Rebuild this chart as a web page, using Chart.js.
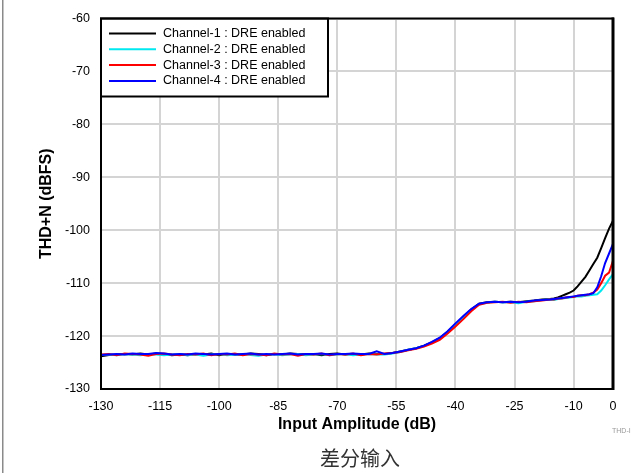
<!DOCTYPE html>
<html>
<head>
<meta charset="utf-8">
<script src="https://cdn.jsdelivr.net/npm/chart.js@4/dist/chart.umd.min.js"></script>
<style>
  html, body { margin: 0; padding: 0; background: #fff; }
  #wrap { position: relative; width: 633px; height: 473px; }
</style>
</head>
<body>
<div id="wrap"><canvas id="thdChart" width="633" height="473"></canvas></div>
<script>
// input amplitude (dB): 2 dB steps down low, 1 dB steps near full scale
const inputDb = [
  -130, -128, -126, -124, -122, -120, -118, -116, -114, -112,
  -110, -108, -106, -104, -102, -100, -98, -96, -94, -92,
  -90, -88, -86, -84, -82, -80, -78, -76, -74, -72,
  -70, -68, -66, -64, -62, -60, -58, -56, -54, -52,
  -50, -48, -46, -44, -42, -40, -38, -36, -34, -32,
  -30, -28, -26, -24, -22, -20, -18, -16,
  -15, -14, -13, -12, -11, -10, -9, -8, -7, -6, -5, -4, -3, -2, -1, 0
];

const ch1 = [
  -123.8, -123.6, -123.5, -123.4, -123.5, -123.3, -123.5, -123.3, -123.4, -123.6,
  -123.5, -123.6, -123.4, -123.5, -123.3, -123.6, -123.4, -123.5, -123.5, -123.3,
  -123.4, -123.6, -123.4, -123.5, -123.3, -123.4, -123.5, -123.4, -123.6, -123.4,
  -123.3, -123.5, -123.4, -123.5, -123.3, -123.4, -123.4, -123.2, -122.9, -122.6,
  -122.3, -121.8, -121.2, -120.4, -119.2, -117.8, -116.4, -115.0, -113.9, -113.6,
  -113.5, -113.6, -113.5, -113.6, -113.4, -113.3, -113.1, -113.0,
  -112.9, -112.7, -112.4, -112.1, -111.8, -111.4, -110.6, -109.7, -108.8, -107.6,
  -106.4, -105.2, -103.4, -101.5, -99.7, -98.2
];
const ch2 = [
  -123.6, -123.5, -123.6, -123.4, -123.5, -123.6, -123.4, -123.5, -123.6, -123.5,
  -123.4, -123.6, -123.5, -123.7, -123.5, -123.4, -123.6, -123.5, -123.4, -123.6,
  -123.7, -123.5, -123.4, -123.6, -123.5, -123.4, -123.6, -123.5, -123.4, -123.6,
  -123.5, -123.4, -123.6, -123.5, -123.4, -123.5, -123.5, -123.3, -123.0, -122.6,
  -122.3, -121.9, -121.3, -120.5, -119.3, -117.9, -116.5, -115.1, -114.0, -113.7,
  -113.5, -113.6, -113.6, -113.8, -113.5, -113.4, -113.2, -113.1,
  -113.2, -113.0, -112.9, -112.8, -112.7, -112.6, -112.5, -112.5, -112.4, -112.3,
  -112.2, -112.1, -111.4, -110.4, -109.3, -108.3
];
const ch3 = [
  -123.5, -123.4, -123.6, -123.3, -123.4, -123.5, -123.7, -123.4, -123.3, -123.5,
  -123.6, -123.4, -123.5, -123.3, -123.6, -123.4, -123.5, -123.3, -123.6, -123.4,
  -123.5, -123.6, -123.3, -123.5, -123.4, -123.7, -123.4, -123.5, -123.3, -123.6,
  -123.4, -123.5, -123.3, -123.6, -123.4, -123.5, -123.3, -123.2, -123.0, -122.7,
  -122.4, -122.0, -121.4, -120.7, -119.5, -118.2, -116.8, -115.3, -114.1, -113.7,
  -113.6, -113.5, -113.7, -113.5, -113.6, -113.4, -113.3, -113.1,
  -113.1, -112.9, -112.9, -112.7, -112.6, -112.6, -112.4, -112.3, -112.3, -112.1,
  -111.8, -111.2, -110.0, -108.6, -108.0, -105.8
];
const ch4 = [
  -123.6, -123.5, -123.4, -123.5, -123.3, -123.4, -123.4, -123.2, -123.3, -123.5,
  -123.4, -123.5, -123.3, -123.4, -123.5, -123.4, -123.3, -123.5, -123.4, -123.3,
  -123.5, -123.4, -123.5, -123.4, -123.3, -123.5, -123.4, -123.4, -123.3, -123.5,
  -123.4, -123.4, -123.3, -123.4, -123.4, -122.9, -123.4, -123.2, -122.9, -122.6,
  -122.3, -121.8, -121.1, -120.3, -119.1, -117.6, -116.2, -114.9, -113.9, -113.6,
  -113.5, -113.6, -113.5, -113.6, -113.5, -113.3, -113.2, -113.1,
  -113.0, -112.9, -112.8, -112.7, -112.6, -112.5, -112.4, -112.3, -112.2, -112.1,
  -111.9, -110.8, -108.7, -106.2, -104.4, -102.6
];

const seriesNames = [
  "Channel-1 : DRE enabled",
  "Channel-2 : DRE enabled",
  "Channel-3 : DRE enabled",
  "Channel-4 : DRE enabled",
];
const seriesColors = ["#000000", "#00e8f0", "#ff0000", "#0000ff"];
const xTickValues = [-130, -115, -100, -85, -70, -55, -40, -25, -10, 0];
const yTickValues = [-130, -120, -110, -100, -90, -80, -70, -60];

const FONT = "'Liberation Sans', Arial, Helvetica, sans-serif";

function toPoints(ys) {
  return inputDb.map((x, i) => ({ x: x, y: ys[i] }));
}

// legend box drawn inside the top-left corner of the plot
const insideLegend = {
  id: "insideLegend",
  afterDatasetsDraw(chart) {
    const { ctx, chartArea } = chart;
    const x0 = chartArea.left;
    const y0 = chartArea.top;
    const w = 227;
    const h = 78;
    ctx.save();
    ctx.fillStyle = "#fff";
    ctx.fillRect(x0, y0, w, h);
    ctx.strokeStyle = "#000";
    ctx.lineWidth = 2;
    ctx.strokeRect(x0, y0, w, h);
    ctx.font = "12.5px " + FONT;
    ctx.textBaseline = "middle";
    chart.data.datasets.forEach((ds, i) => {
      const yy = y0 + 15 + i * 15.8;
      ctx.strokeStyle = ds.borderColor;
      ctx.lineWidth = 2;
      ctx.beginPath();
      ctx.moveTo(x0 + 8, yy);
      ctx.lineTo(x0 + 55, yy);
      ctx.stroke();
      ctx.fillStyle = "#000";
      ctx.fillText(ds.label, x0 + 62, yy);
    });
    ctx.restore();
  },
};

// plot frame, page border and the extra texts under the chart
const frameAndCaption = {
  id: "frameAndCaption",
  afterDraw(chart) {
    const { ctx, chartArea } = chart;
    ctx.save();
    ctx.strokeStyle = "#000";
    ctx.lineWidth = 2;
    ctx.strokeRect(chartArea.left, chartArea.top,
      chartArea.right - chartArea.left, chartArea.bottom - chartArea.top);
    ctx.lineWidth = 3;
    ctx.beginPath();
    ctx.moveTo(chartArea.right, chartArea.top - 1);
    ctx.lineTo(chartArea.right, chartArea.bottom + 1);
    ctx.stroke();

    ctx.fillStyle = "#8a8a8a";
    ctx.fillRect(2, 0, 1.5, chart.height);

    ctx.fillStyle = "#333";
    ctx.font = "20px 'Noto Sans CJK SC', sans-serif";
    ctx.textAlign = "center";
    ctx.textBaseline = "middle";
    ctx.fillText("差分输入", 360, 458);

    ctx.fillStyle = "#999";
    ctx.font = "7px " + FONT;
    ctx.textAlign = "left";
    ctx.fillText("THD-I", 612, 431);
    ctx.restore();
  },
};

const ctx = document.getElementById("thdChart").getContext("2d");
const thdChart = new Chart(ctx, {
  type: "line",
  data: {
    datasets: [ch1, ch2, ch3, ch4].map((ys, i) => ({
      label: seriesNames[i],
      data: toPoints(ys),
      borderColor: seriesColors[i],
      backgroundColor: seriesColors[i],
      borderWidth: 2,
      pointRadius: 0,
      tension: 0,
      fill: false,
      order: 3 - i,
    })),
  },
  options: {
    responsive: false,
    animation: false,
    layout: { padding: { top: 16, right: 20, left: 0, bottom: 0 } },
    scales: {
      x: {
        type: "linear",
        min: -130,
        max: 0,
        afterBuildTicks: (scale) => {
          scale.ticks = xTickValues.map((v) => ({ value: v }));
        },
        afterFit: (scale) => {
          scale.height = 84;
        },
        grid: { color: "#d4d4d4", lineWidth: 2, drawTicks: false },
        border: { display: false },
        ticks: {
          color: "#000",
          padding: 10,
          maxRotation: 0,
          autoSkip: false,
          font: { family: FONT, size: 12.5 },
        },
        title: {
          display: true,
          text: "Input Amplitude (dB)",
          color: "#000",
          padding: { top: 0, bottom: 39 },
          font: { family: FONT, size: 16, weight: "bold" },
        },
      },
      y: {
        type: "linear",
        min: -130,
        max: -60,
        afterBuildTicks: (scale) => {
          scale.ticks = yTickValues.map((v) => ({ value: v }));
        },
        afterFit: (scale) => {
          scale.width = 101;
        },
        grid: { color: "#d4d4d4", lineWidth: 2, drawTicks: false },
        border: { display: false },
        ticks: {
          color: "#000",
          padding: 11,
          font: { family: FONT, size: 12.5 },
        },
        title: {
          display: true,
          text: "THD+N (dBFS)",
          color: "#000",
          padding: { top: 37, bottom: 0 },
          font: { family: FONT, size: 16, weight: "bold" },
        },
      },
    },
    plugins: {
      legend: { display: false },
      tooltip: { enabled: false },
    },
    devicePixelRatio: window.devicePixelRatio,
  },
  plugins: [insideLegend, frameAndCaption],
});
</script>
</body>
</html>
